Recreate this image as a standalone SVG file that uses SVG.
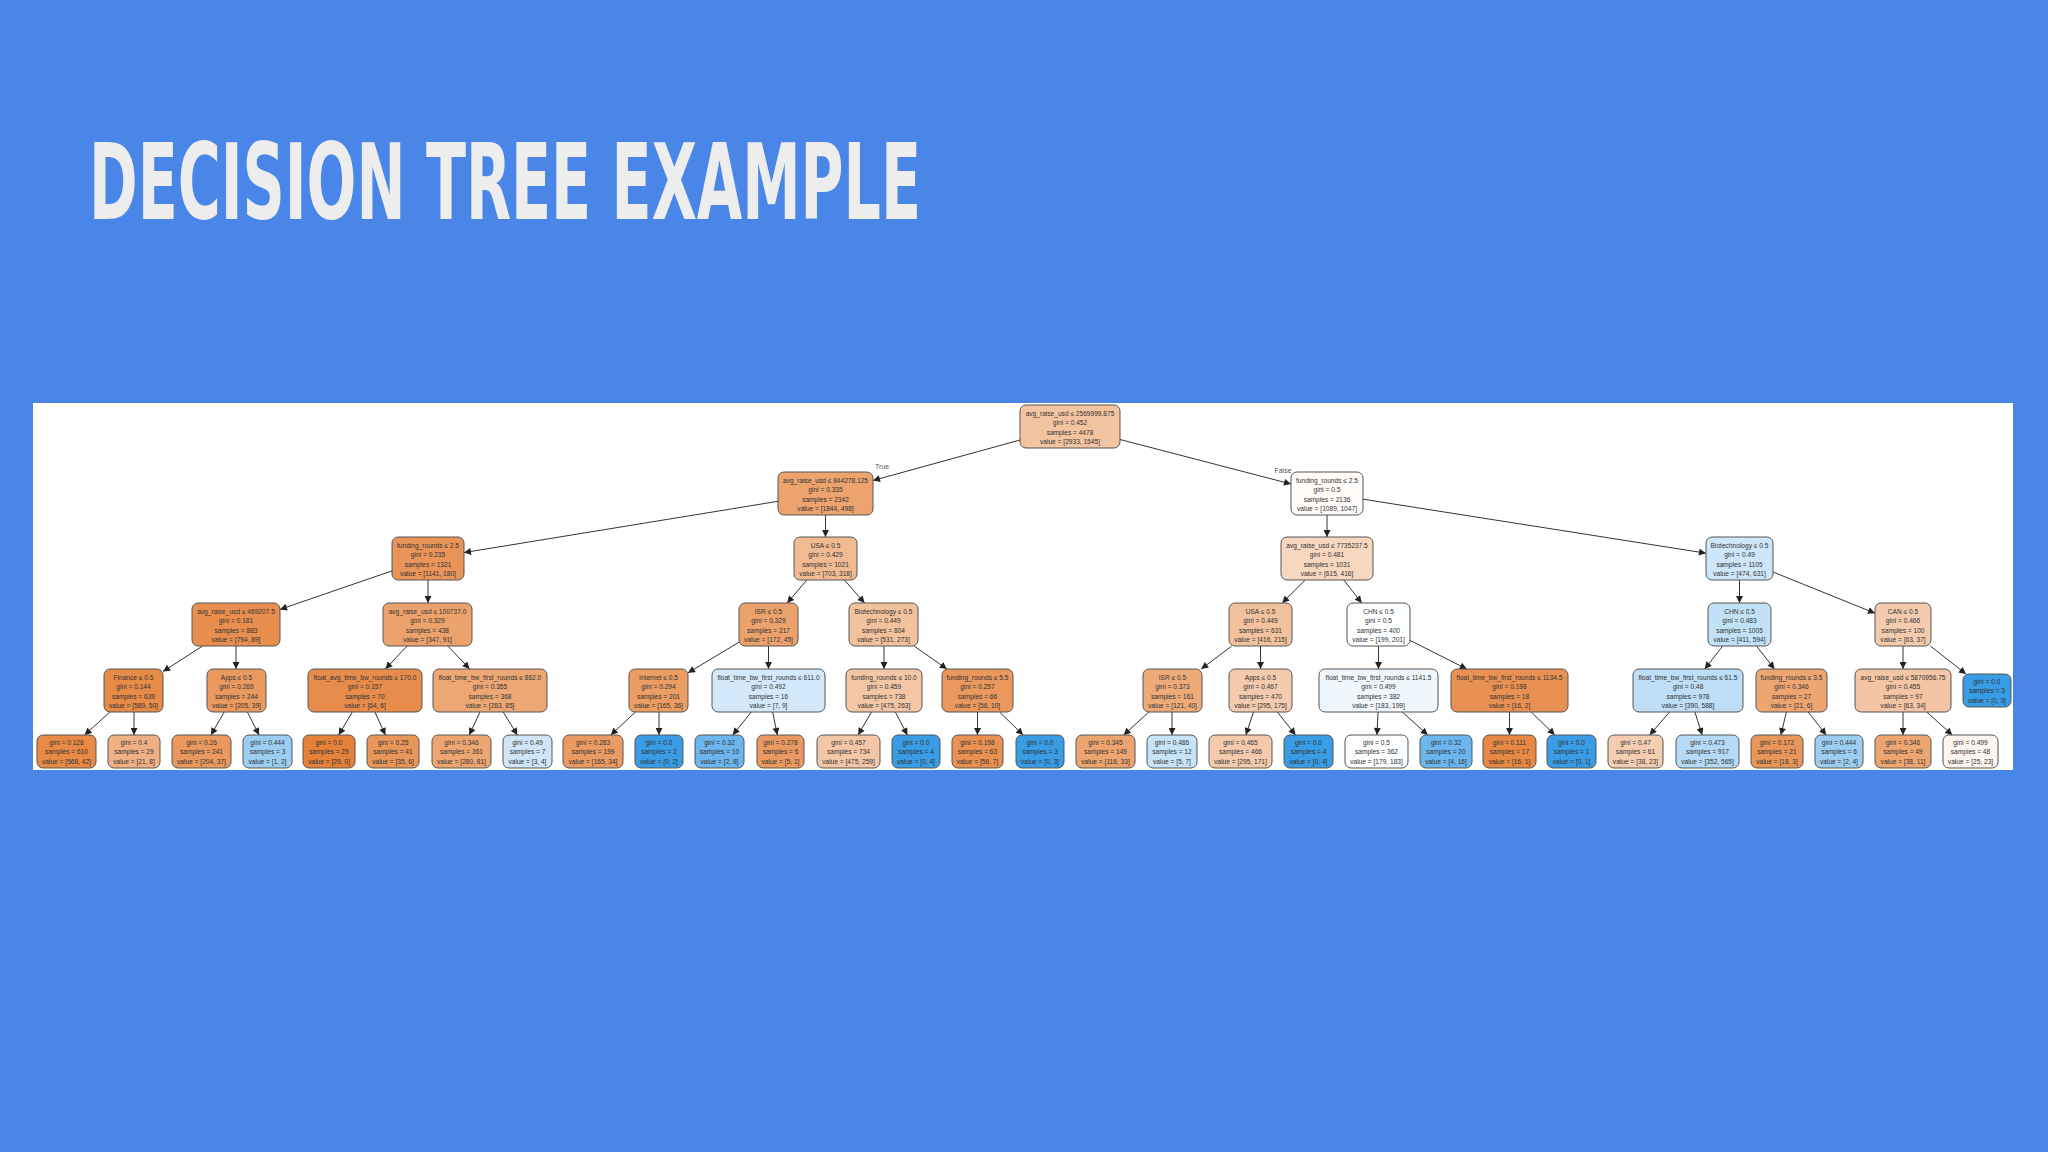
<svg xmlns="http://www.w3.org/2000/svg" width="2048" height="1152" viewBox="0 0 2048 1152">
<defs>
<marker id="ah" viewBox="0 0 10 10" refX="10" refY="5" markerWidth="8" markerHeight="7" markerUnits="userSpaceOnUse" orient="auto"><path d="M0,0 L10,5 L0,10 z" fill="#222"/></marker>
<style>
.bg{fill:#4a86e8}
.title{font-family:"Liberation Sans Narrow","DejaVu Sans Condensed","Liberation Sans",sans-serif;font-weight:bold;font-size:106px;fill:#ededed}
.nd rect{stroke:#555;stroke-width:1}
.nd text{font-family:"Liberation Sans",Arial,sans-serif;font-size:6.6px;fill:#333;text-anchor:middle}
#edges line{stroke:#333;stroke-width:1;marker-end:url(#ah)}
.lbl{font-family:"Liberation Sans",Arial,sans-serif;font-size:7px;fill:#555;text-anchor:middle}
</style>
</defs>
<rect class="bg" x="0" y="0" width="2048" height="1152"/>
<text class="title" x="89" y="219" textLength="832" lengthAdjust="spacingAndGlyphs">DECISION TREE EXAMPLE</text>
<rect x="33" y="403" width="1980" height="367" fill="#ffffff"/>
<g id="edges">
<line x1="1020" y1="440" x2="873" y2="480.5"/>
<line x1="1120" y1="439.5" x2="1291" y2="484"/>
<line x1="778" y1="501.3" x2="464" y2="552.6"/>
<line x1="825.5" y1="515" x2="825.5" y2="537"/>
<line x1="1327" y1="515" x2="1327" y2="537"/>
<line x1="1363" y1="499.2" x2="1706" y2="553.2"/>
<line x1="392" y1="570.9" x2="280" y2="609.4"/>
<line x1="428" y1="580" x2="428" y2="603"/>
<line x1="806.9" y1="580" x2="787.1" y2="603"/>
<line x1="844.4" y1="580" x2="864.6" y2="603"/>
<line x1="1305.3" y1="580" x2="1282.2" y2="603"/>
<line x1="1343.8" y1="580" x2="1361.7" y2="603"/>
<line x1="1739.5" y1="580" x2="1739.5" y2="603"/>
<line x1="1773" y1="572" x2="1875" y2="613.2"/>
<line x1="202.6" y1="646" x2="163" y2="671.5"/>
<line x1="236" y1="646" x2="236" y2="669"/>
<line x1="407.1" y1="646" x2="385.4" y2="669"/>
<line x1="447.9" y1="646" x2="469.6" y2="669"/>
<line x1="739" y1="642.2" x2="688" y2="672.8"/>
<line x1="768.5" y1="646" x2="768.5" y2="669"/>
<line x1="884" y1="646" x2="884" y2="669"/>
<line x1="914.1" y1="646" x2="946.9" y2="669"/>
<line x1="1231.8" y1="646" x2="1201.2" y2="669"/>
<line x1="1260.5" y1="646" x2="1260.5" y2="669"/>
<line x1="1378.5" y1="646" x2="1378.5" y2="669"/>
<line x1="1410" y1="640.4" x2="1466.8" y2="669"/>
<line x1="1722.7" y1="646" x2="1704.8" y2="669"/>
<line x1="1756.5" y1="646" x2="1774.5" y2="669"/>
<line x1="1903" y1="646" x2="1903" y2="669"/>
<line x1="1930.4" y1="646" x2="1966" y2="674"/>
<line x1="109.9" y1="712" x2="84.6" y2="735"/>
<line x1="134" y1="712" x2="134" y2="735"/>
<line x1="224.2" y1="712" x2="211" y2="735"/>
<line x1="247.4" y1="712" x2="259.1" y2="735"/>
<line x1="352.3" y1="712" x2="338.7" y2="735"/>
<line x1="374.9" y1="712" x2="385.4" y2="735"/>
<line x1="480" y1="712" x2="469.2" y2="735"/>
<line x1="503.2" y1="712" x2="517.4" y2="735"/>
<line x1="635.5" y1="712" x2="610.7" y2="735"/>
<line x1="659" y1="712" x2="659" y2="735"/>
<line x1="751.3" y1="712" x2="732.7" y2="735"/>
<line x1="772.7" y1="712" x2="777.3" y2="735"/>
<line x1="871.5" y1="712" x2="858.1" y2="735"/>
<line x1="895.3" y1="712" x2="907.4" y2="735"/>
<line x1="977.5" y1="712" x2="977.5" y2="735"/>
<line x1="999.5" y1="712" x2="1023.1" y2="735"/>
<line x1="1148.9" y1="712" x2="1123.6" y2="735"/>
<line x1="1172" y1="712" x2="1172" y2="735"/>
<line x1="1253.5" y1="712" x2="1245.9" y2="735"/>
<line x1="1277.4" y1="712" x2="1295.5" y2="735"/>
<line x1="1378" y1="712" x2="1377" y2="735"/>
<line x1="1402.3" y1="712" x2="1427.8" y2="735"/>
<line x1="1509.5" y1="712" x2="1509.5" y2="735"/>
<line x1="1531.3" y1="712" x2="1554.8" y2="735"/>
<line x1="1669.5" y1="712" x2="1649.7" y2="735"/>
<line x1="1694.9" y1="712" x2="1702.2" y2="735"/>
<line x1="1786.4" y1="712" x2="1780.9" y2="735"/>
<line x1="1808.2" y1="712" x2="1826.2" y2="735"/>
<line x1="1903" y1="712" x2="1903" y2="735"/>
<line x1="1926.8" y1="712" x2="1952.3" y2="735"/>
<text class="lbl" x="882" y="469">True</text>
<text class="lbl" x="1283" y="473">False</text>
</g>
<g id="n_root" class="nd"><rect x="1020" y="405" width="100" height="43" rx="6" fill="#f3c4a2"/><text x="1070" y="415.5">avg_raise_usd ≤ 2569999.875</text><text x="1070" y="425">gini = 0.452</text><text x="1070" y="434.5">samples = 4478</text><text x="1070" y="444">value = [2933, 1545]</text></g>
<g id="n_a" class="nd"><rect x="778" y="472" width="95" height="43" rx="6" fill="#eca36e"/><text x="825.5" y="482.5">avg_raise_usd ≤ 844278.125</text><text x="825.5" y="492">gini = 0.335</text><text x="825.5" y="501.5">samples = 2342</text><text x="825.5" y="511">value = [1844, 498]</text></g>
<g id="n_b" class="nd"><rect x="1291" y="472" width="72" height="43" rx="6" fill="#fefbf9"/><text x="1327" y="482.5">funding_rounds ≤ 2.5</text><text x="1327" y="492">gini = 0.5</text><text x="1327" y="501.5">samples = 2136</text><text x="1327" y="511">value = [1089, 1047]</text></g>
<g id="n_c" class="nd"><rect x="392" y="537" width="72" height="43" rx="6" fill="#e99559"/><text x="428" y="547.5">funding_rounds ≤ 2.5</text><text x="428" y="557">gini = 0.235</text><text x="428" y="566.5">samples = 1321</text><text x="428" y="576">value = [1141, 180]</text></g>
<g id="n_d" class="nd"><rect x="794" y="537" width="63" height="43" rx="6" fill="#f1ba92"/><text x="825.5" y="547.5">USA ≤ 0.5</text><text x="825.5" y="557">gini = 0.429</text><text x="825.5" y="566.5">samples = 1021</text><text x="825.5" y="576">value = [703, 318]</text></g>
<g id="n_e" class="nd"><rect x="1281" y="537" width="92" height="43" rx="6" fill="#f7d7c0"/><text x="1327" y="547.5">avg_raise_usd ≤ 7735237.5</text><text x="1327" y="557">gini = 0.481</text><text x="1327" y="566.5">samples = 1031</text><text x="1327" y="576">value = [615, 416]</text></g>
<g id="n_f" class="nd"><rect x="1706" y="537" width="67" height="43" rx="6" fill="#cde6f9"/><text x="1739.5" y="547.5">Biotechnology ≤ 0.5</text><text x="1739.5" y="557">gini = 0.49</text><text x="1739.5" y="566.5">samples = 1105</text><text x="1739.5" y="576">value = [474, 631]</text></g>
<g id="n_g" class="nd"><rect x="192" y="603" width="88" height="43" rx="6" fill="#e88f4f"/><text x="236" y="613.5">avg_raise_usd ≤ 469207.5</text><text x="236" y="623">gini = 0.181</text><text x="236" y="632.5">samples = 883</text><text x="236" y="642">value = [794, 89]</text></g>
<g id="n_h" class="nd"><rect x="383" y="603" width="89" height="43" rx="6" fill="#eca26c"/><text x="427.5" y="613.5">avg_raise_usd ≤ 100737.0</text><text x="427.5" y="623">gini = 0.329</text><text x="427.5" y="632.5">samples = 438</text><text x="427.5" y="642">value = [347, 91]</text></g>
<g id="n_i" class="nd"><rect x="739" y="603" width="59" height="43" rx="6" fill="#eca26c"/><text x="768.5" y="613.5">ISR ≤ 0.5</text><text x="768.5" y="623">gini = 0.329</text><text x="768.5" y="632.5">samples = 217</text><text x="768.5" y="642">value = [172, 45]</text></g>
<g id="n_j" class="nd"><rect x="849" y="603" width="69" height="43" rx="6" fill="#f2c19e"/><text x="883.5" y="613.5">Biotechnology ≤ 0.5</text><text x="883.5" y="623">gini = 0.449</text><text x="883.5" y="632.5">samples = 804</text><text x="883.5" y="642">value = [531, 273]</text></g>
<g id="n_k" class="nd"><rect x="1229" y="603" width="63" height="43" rx="6" fill="#f2c29f"/><text x="1260.5" y="613.5">USA ≤ 0.5</text><text x="1260.5" y="623">gini = 0.449</text><text x="1260.5" y="632.5">samples = 631</text><text x="1260.5" y="642">value = [416, 215]</text></g>
<g id="n_l" class="nd"><rect x="1347" y="603" width="63" height="43" rx="6" fill="#fdfeff"/><text x="1378.5" y="613.5">CHN ≤ 0.5</text><text x="1378.5" y="623">gini = 0.5</text><text x="1378.5" y="632.5">samples = 400</text><text x="1378.5" y="642">value = [199, 201]</text></g>
<g id="n_m" class="nd"><rect x="1708" y="603" width="63" height="43" rx="6" fill="#c2e1f7"/><text x="1739.5" y="613.5">CHN ≤ 0.5</text><text x="1739.5" y="623">gini = 0.483</text><text x="1739.5" y="632.5">samples = 1005</text><text x="1739.5" y="642">value = [411, 594]</text></g>
<g id="n_n" class="nd"><rect x="1875" y="603" width="56" height="43" rx="6" fill="#f4cbae"/><text x="1903" y="613.5">CAN ≤ 0.5</text><text x="1903" y="623">gini = 0.466</text><text x="1903" y="632.5">samples = 100</text><text x="1903" y="642">value = [63, 37]</text></g>
<g id="n_o" class="nd"><rect x="104" y="669" width="59" height="43" rx="6" fill="#e78b49"/><text x="133.5" y="679.5">Finance ≤ 0.5</text><text x="133.5" y="689">gini = 0.144</text><text x="133.5" y="698.5">samples = 639</text><text x="133.5" y="708">value = [589, 50]</text></g>
<g id="n_p" class="nd"><rect x="207" y="669" width="59" height="43" rx="6" fill="#ea995f"/><text x="236.5" y="679.5">Apps ≤ 0.5</text><text x="236.5" y="689">gini = 0.269</text><text x="236.5" y="698.5">samples = 244</text><text x="236.5" y="708">value = [205, 39]</text></g>
<g id="n_q" class="nd"><rect x="308" y="669" width="114" height="43" rx="6" fill="#e78c4b"/><text x="365" y="679.5">float_avg_time_bw_rounds ≤ 170.0</text><text x="365" y="689">gini = 0.157</text><text x="365" y="698.5">samples = 70</text><text x="365" y="708">value = [64, 6]</text></g>
<g id="n_r" class="nd"><rect x="433" y="669" width="114" height="43" rx="6" fill="#eda774"/><text x="490" y="679.5">float_time_bw_first_rounds ≤ 862.0</text><text x="490" y="689">gini = 0.355</text><text x="490" y="698.5">samples = 368</text><text x="490" y="708">value = [283, 85]</text></g>
<g id="n_s" class="nd"><rect x="629" y="669" width="59" height="43" rx="6" fill="#eb9d63"/><text x="658.5" y="679.5">Internet ≤ 0.5</text><text x="658.5" y="689">gini = 0.294</text><text x="658.5" y="698.5">samples = 201</text><text x="658.5" y="708">value = [165, 36]</text></g>
<g id="n_t" class="nd"><rect x="712" y="669" width="113" height="43" rx="6" fill="#d3e9f9"/><text x="768.5" y="679.5">float_time_bw_first_rounds ≤ 611.0</text><text x="768.5" y="689">gini = 0.492</text><text x="768.5" y="698.5">samples = 16</text><text x="768.5" y="708">value = [7, 9]</text></g>
<g id="n_u" class="nd"><rect x="846" y="669" width="76" height="43" rx="6" fill="#f3c6a6"/><text x="884" y="679.5">funding_rounds ≤ 10.0</text><text x="884" y="689">gini = 0.459</text><text x="884" y="698.5">samples = 738</text><text x="884" y="708">value = [475, 263]</text></g>
<g id="n_v" class="nd"><rect x="942" y="669" width="71" height="43" rx="6" fill="#ea985d"/><text x="977.5" y="679.5">funding_rounds ≤ 5.5</text><text x="977.5" y="689">gini = 0.257</text><text x="977.5" y="698.5">samples = 66</text><text x="977.5" y="708">value = [56, 10]</text></g>
<g id="n_w" class="nd"><rect x="1143" y="669" width="59" height="43" rx="6" fill="#eeab7a"/><text x="1172.5" y="679.5">ISR ≤ 0.5</text><text x="1172.5" y="689">gini = 0.373</text><text x="1172.5" y="698.5">samples = 161</text><text x="1172.5" y="708">value = [121, 40]</text></g>
<g id="n_x" class="nd"><rect x="1229" y="669" width="63" height="43" rx="6" fill="#f4cbae"/><text x="1260.5" y="679.5">Apps ≤ 0.5</text><text x="1260.5" y="689">gini = 0.467</text><text x="1260.5" y="698.5">samples = 470</text><text x="1260.5" y="708">value = [295, 175]</text></g>
<g id="n_y" class="nd"><rect x="1319" y="669" width="119" height="43" rx="6" fill="#eff7fd"/><text x="1378.5" y="679.5">float_time_bw_first_rounds ≤ 1141.5</text><text x="1378.5" y="689">gini = 0.499</text><text x="1378.5" y="698.5">samples = 382</text><text x="1378.5" y="708">value = [183, 199]</text></g>
<g id="n_z" class="nd"><rect x="1451" y="669" width="117" height="43" rx="6" fill="#e89152"/><text x="1509.5" y="679.5">float_time_bw_first_rounds ≤ 1134.5</text><text x="1509.5" y="689">gini = 0.198</text><text x="1509.5" y="698.5">samples = 18</text><text x="1509.5" y="708">value = [16, 2]</text></g>
<g id="n_aa" class="nd"><rect x="1633" y="669" width="110" height="43" rx="6" fill="#bddef6"/><text x="1688" y="679.5">float_time_bw_first_rounds ≤ 61.5</text><text x="1688" y="689">gini = 0.48</text><text x="1688" y="698.5">samples = 978</text><text x="1688" y="708">value = [390, 588]</text></g>
<g id="n_ab" class="nd"><rect x="1756" y="669" width="71" height="43" rx="6" fill="#eda672"/><text x="1791.5" y="679.5">funding_rounds ≤ 3.5</text><text x="1791.5" y="689">gini = 0.346</text><text x="1791.5" y="698.5">samples = 27</text><text x="1791.5" y="708">value = [21, 6]</text></g>
<g id="n_ac" class="nd"><rect x="1855" y="669" width="96" height="43" rx="6" fill="#f3c5a4"/><text x="1903" y="679.5">avg_raise_usd ≤ 5870956.75</text><text x="1903" y="689">gini = 0.455</text><text x="1903" y="698.5">samples = 97</text><text x="1903" y="708">value = [63, 34]</text></g>
<g id="n_ad" class="nd"><rect x="1963" y="674" width="48" height="33" rx="6" fill="#399de5"/><text x="1987" y="683.5">gini = 0.0</text><text x="1987" y="693">samples = 3</text><text x="1987" y="702.5">value = [0, 3]</text></g>
<g id="l1" class="nd"><rect x="37" y="735" width="59" height="33" rx="6" fill="#e78a47"/><text x="66.5" y="744.5">gini = 0.128</text><text x="66.5" y="754">samples = 610</text><text x="66.5" y="763.5">value = [568, 42]</text></g>
<g id="l2" class="nd"><rect x="108" y="735" width="52" height="33" rx="6" fill="#efb184"/><text x="134" y="744.5">gini = 0.4</text><text x="134" y="754">samples = 29</text><text x="134" y="763.5">value = [21, 8]</text></g>
<g id="l3" class="nd"><rect x="172" y="735" width="59" height="33" rx="6" fill="#ea985d"/><text x="201.5" y="744.5">gini = 0.26</text><text x="201.5" y="754">samples = 241</text><text x="201.5" y="763.5">value = [204, 37]</text></g>
<g id="l4" class="nd"><rect x="243" y="735" width="49" height="33" rx="6" fill="#9ccef2"/><text x="267.5" y="744.5">gini = 0.444</text><text x="267.5" y="754">samples = 3</text><text x="267.5" y="763.5">value = [1, 2]</text></g>
<g id="l5" class="nd"><rect x="303" y="735" width="52" height="33" rx="6" fill="#e58139"/><text x="329" y="744.5">gini = 0.0</text><text x="329" y="754">samples = 29</text><text x="329" y="763.5">value = [29, 0]</text></g>
<g id="l6" class="nd"><rect x="367" y="735" width="52" height="33" rx="6" fill="#e9965a"/><text x="393" y="744.5">gini = 0.25</text><text x="393" y="754">samples = 41</text><text x="393" y="763.5">value = [35, 6]</text></g>
<g id="l7" class="nd"><rect x="432" y="735" width="59" height="33" rx="6" fill="#eda672"/><text x="461.5" y="744.5">gini = 0.346</text><text x="461.5" y="754">samples = 361</text><text x="461.5" y="763.5">value = [280, 81]</text></g>
<g id="l8" class="nd"><rect x="503" y="735" width="49" height="33" rx="6" fill="#cee6f8"/><text x="527.5" y="744.5">gini = 0.49</text><text x="527.5" y="754">samples = 7</text><text x="527.5" y="763.5">value = [3, 4]</text></g>
<g id="l9" class="nd"><rect x="563" y="735" width="60" height="33" rx="6" fill="#ea9b63"/><text x="593" y="744.5">gini = 0.283</text><text x="593" y="754">samples = 199</text><text x="593" y="763.5">value = [165, 34]</text></g>
<g id="l10" class="nd"><rect x="635" y="735" width="48" height="33" rx="6" fill="#399de5"/><text x="659" y="744.5">gini = 0.0</text><text x="659" y="754">samples = 2</text><text x="659" y="763.5">value = [0, 2]</text></g>
<g id="l11" class="nd"><rect x="695" y="735" width="49" height="33" rx="6" fill="#6bb6ec"/><text x="719.5" y="744.5">gini = 0.32</text><text x="719.5" y="754">samples = 10</text><text x="719.5" y="763.5">value = [2, 8]</text></g>
<g id="l12" class="nd"><rect x="757" y="735" width="47" height="33" rx="6" fill="#ea9a61"/><text x="780.5" y="744.5">gini = 0.278</text><text x="780.5" y="754">samples = 6</text><text x="780.5" y="763.5">value = [5, 1]</text></g>
<g id="l13" class="nd"><rect x="817" y="735" width="63" height="33" rx="6" fill="#f3c6a6"/><text x="848.5" y="744.5">gini = 0.457</text><text x="848.5" y="754">samples = 734</text><text x="848.5" y="763.5">value = [475, 259]</text></g>
<g id="l14" class="nd"><rect x="892" y="735" width="48" height="33" rx="6" fill="#399de5"/><text x="916" y="744.5">gini = 0.0</text><text x="916" y="754">samples = 4</text><text x="916" y="763.5">value = [0, 4]</text></g>
<g id="l15" class="nd"><rect x="952" y="735" width="51" height="33" rx="6" fill="#e89152"/><text x="977.5" y="744.5">gini = 0.198</text><text x="977.5" y="754">samples = 63</text><text x="977.5" y="763.5">value = [56, 7]</text></g>
<g id="l16" class="nd"><rect x="1016" y="735" width="48" height="33" rx="6" fill="#399de5"/><text x="1040" y="744.5">gini = 0.0</text><text x="1040" y="754">samples = 3</text><text x="1040" y="763.5">value = [0, 3]</text></g>
<g id="l17" class="nd"><rect x="1076" y="735" width="59" height="33" rx="6" fill="#eca470"/><text x="1105.5" y="744.5">gini = 0.345</text><text x="1105.5" y="754">samples = 149</text><text x="1105.5" y="763.5">value = [116, 33]</text></g>
<g id="l18" class="nd"><rect x="1147" y="735" width="50" height="33" rx="6" fill="#c6e3f8"/><text x="1172" y="744.5">gini = 0.486</text><text x="1172" y="754">samples = 12</text><text x="1172" y="763.5">value = [5, 7]</text></g>
<g id="l19" class="nd"><rect x="1209" y="735" width="63" height="33" rx="6" fill="#f4caac"/><text x="1240.5" y="744.5">gini = 0.465</text><text x="1240.5" y="754">samples = 466</text><text x="1240.5" y="763.5">value = [295, 171]</text></g>
<g id="l20" class="nd"><rect x="1284" y="735" width="49" height="33" rx="6" fill="#399de5"/><text x="1308.5" y="744.5">gini = 0.0</text><text x="1308.5" y="754">samples = 4</text><text x="1308.5" y="763.5">value = [0, 4]</text></g>
<g id="l21" class="nd"><rect x="1345" y="735" width="63" height="33" rx="6" fill="#fbfdfe"/><text x="1376.5" y="744.5">gini = 0.5</text><text x="1376.5" y="754">samples = 362</text><text x="1376.5" y="763.5">value = [179, 183]</text></g>
<g id="l22" class="nd"><rect x="1420" y="735" width="52" height="33" rx="6" fill="#6bb6ec"/><text x="1446" y="744.5">gini = 0.32</text><text x="1446" y="754">samples = 20</text><text x="1446" y="763.5">value = [4, 16]</text></g>
<g id="l23" class="nd"><rect x="1483" y="735" width="53" height="33" rx="6" fill="#e78945"/><text x="1509.5" y="744.5">gini = 0.111</text><text x="1509.5" y="754">samples = 17</text><text x="1509.5" y="763.5">value = [16, 1]</text></g>
<g id="l24" class="nd"><rect x="1547" y="735" width="49" height="33" rx="6" fill="#399de5"/><text x="1571.5" y="744.5">gini = 0.0</text><text x="1571.5" y="754">samples = 1</text><text x="1571.5" y="763.5">value = [0, 1]</text></g>
<g id="l25" class="nd"><rect x="1608" y="735" width="55" height="33" rx="6" fill="#f5ceb2"/><text x="1635.5" y="744.5">gini = 0.47</text><text x="1635.5" y="754">samples = 61</text><text x="1635.5" y="763.5">value = [38, 23]</text></g>
<g id="l26" class="nd"><rect x="1676" y="735" width="63" height="33" rx="6" fill="#b4daf5"/><text x="1707.5" y="744.5">gini = 0.473</text><text x="1707.5" y="754">samples = 917</text><text x="1707.5" y="763.5">value = [352, 565]</text></g>
<g id="l27" class="nd"><rect x="1751" y="735" width="52" height="33" rx="6" fill="#e9965a"/><text x="1777" y="744.5">gini = 0.172</text><text x="1777" y="754">samples = 21</text><text x="1777" y="763.5">value = [18, 3]</text></g>
<g id="l28" class="nd"><rect x="1815" y="735" width="48" height="33" rx="6" fill="#9ccef2"/><text x="1839" y="744.5">gini = 0.444</text><text x="1839" y="754">samples = 6</text><text x="1839" y="763.5">value = [2, 4]</text></g>
<g id="l29" class="nd"><rect x="1875" y="735" width="56" height="33" rx="6" fill="#eda672"/><text x="1903" y="744.5">gini = 0.346</text><text x="1903" y="754">samples = 49</text><text x="1903" y="763.5">value = [38, 11]</text></g>
<g id="l30" class="nd"><rect x="1943" y="735" width="55" height="33" rx="6" fill="#fdf5ef"/><text x="1970.5" y="744.5">gini = 0.499</text><text x="1970.5" y="754">samples = 48</text><text x="1970.5" y="763.5">value = [25, 23]</text></g>
</svg>
